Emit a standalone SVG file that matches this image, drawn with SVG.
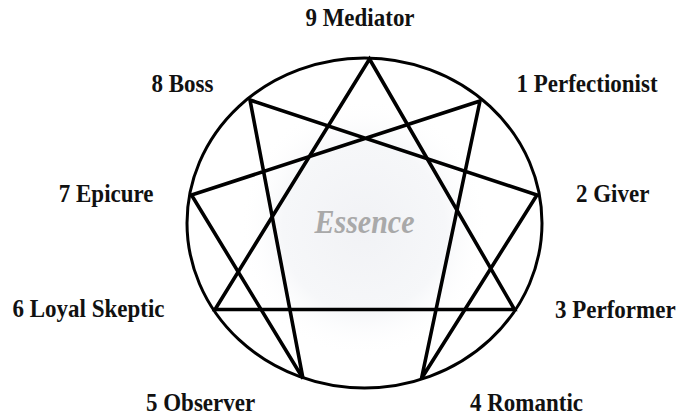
<svg xmlns="http://www.w3.org/2000/svg" width="694" height="416" viewBox="0 0 694 416">
<style>
.lbl{font-family:"Liberation Serif","Times New Roman",serif;font-weight:bold;font-size:23px;fill:#111}
.ess{font-family:"Liberation Serif","Times New Roman",serif;font-weight:bold;font-style:italic;font-size:30px;fill:#a9a9a9}
.ln{fill:none;stroke:#000;stroke-width:3.6;stroke-linejoin:miter}
</style>
<defs>
<radialGradient id="glow" cx="0.5" cy="0.5" r="0.5">
<stop offset="0" stop-color="#f1f2f5"/>
<stop offset="0.65" stop-color="#f6f7f9"/>
<stop offset="1" stop-color="#ffffff" stop-opacity="0"/>
</radialGradient>
</defs>
<rect width="694" height="416" fill="#fff"/>
<ellipse cx="364" cy="228" rx="125" ry="130" fill="url(#glow)"/>
<g id="connectors">
<ellipse cx="364.5" cy="223" rx="177.5" ry="165" fill="none" stroke="#000" stroke-width="3"/>
<polygon class="ln" points="369.5,59 514.5,309.5 215,309.5"/>
<polygon class="ln" points="480,101 421.5,378.5 537,195 250,100 303,378.5 191.5,195"/>
</g>
<g id="essence"><text class="ess" transform="translate(364.5,233) scale(1,1.12)" text-anchor="middle">Essence</text></g>
<g id="n9"><text class="lbl" transform="translate(360,26) scale(1,1.12)" text-anchor="middle">9 Mediator</text></g>
<g id="n1"><text class="lbl" transform="translate(516.5,92) scale(1,1.12)">1 Perfectionist</text></g>
<g id="n2"><text class="lbl" transform="translate(576,202) scale(1,1.12)">2 Giver</text></g>
<g id="n3"><text class="lbl" transform="translate(555,317.5) scale(1,1.12)">3 Performer</text></g>
<g id="n4"><text class="lbl" transform="translate(470,411) scale(1,1.12)">4 Romantic</text></g>
<g id="n5"><text class="lbl" transform="translate(146,411) scale(1,1.12)">5 Observer</text></g>
<g id="n6"><text class="lbl" transform="translate(12.5,316.5) scale(1,1.12)">6 Loyal Skeptic</text></g>
<g id="n7"><text class="lbl" transform="translate(153.5,201.5) scale(1,1.12)" text-anchor="end">7 Epicure</text></g>
<g id="n8"><text class="lbl" transform="translate(151.5,92) scale(1,1.12)">8 Boss</text></g>
</svg>
